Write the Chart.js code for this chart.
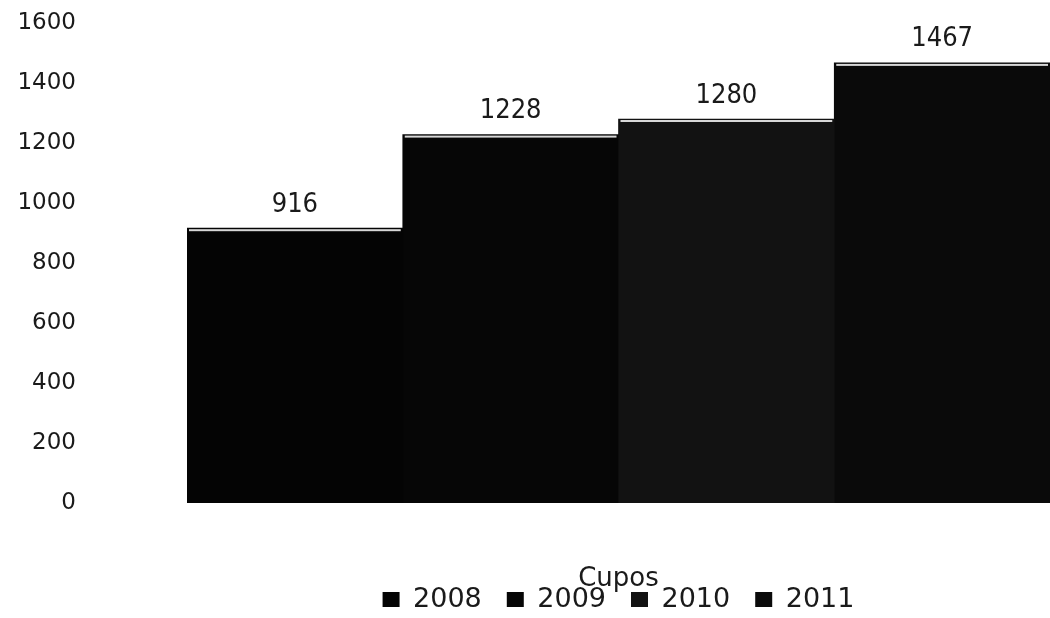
<!DOCTYPE html>
<html>
<head>
<meta charset="utf-8">
<script src="https://cdn.jsdelivr.net/npm/chart.js@4/dist/chart.umd.min.js"></script>
<style>
  html, body { margin: 0; padding: 0; background: #fff; }
  #wrap { width: 1050px; height: 618px; position: relative; }
</style>
</head>
<body>
<div id="wrap"><canvas id="chart"></canvas></div>
<script>
// Datos del gráfico
const categories = ['Cupos'];
const years = ['2008', '2009', '2010', '2011'];
const cupos = [916, 1228, 1280, 1467];
const yTicks = [0, 200, 400, 600, 800, 1000, 1200, 1400, 1600];

const barColors = ['#040404', '#060606', '#121212', '#0a0a0a'];
const textColor = '#1a1a1a';
const fontFamily = "'DejaVu Sans', sans-serif";

// Étiquettes de valeur au-dessus des barres
const valueLabels = {
  id: 'valueLabels',
  afterDatasetsDraw(chart) {
    const ctx = chart.ctx;
    ctx.save();
    ctx.font = "27px 'DejaVu Sans Condensed', " + fontFamily;
    ctx.textAlign = 'center';
    ctx.textBaseline = 'bottom';
    chart.data.datasets.forEach((ds, i) => {
      const bar = chart.getDatasetMeta(i).data[0];
      // fine ligne claire sur le dessus de la barre
      ctx.fillStyle = '#d8d8d8';
      ctx.fillRect(bar.x - bar.width / 2 + 2, bar.y + 1, bar.width - 4, 2);
      ctx.fillStyle = textColor;
      ctx.fillText(String(ds.data[0]), bar.x, bar.y - 10);
    });
    ctx.restore();
  }
};

new Chart(document.getElementById('chart'), {
  type: 'bar',
  data: {
    labels: categories,
    datasets: years.map((y, i) => ({
      label: y,
      data: [cupos[i]],
      backgroundColor: barColors[i],
      categoryPercentage: 1,
      barPercentage: 1
    }))
  },
  options: {
    responsive: true,
    maintainAspectRatio: false,
    animation: false,
    layout: { padding: { top: 23, right: 0, left: 0, bottom: -5 } },
    plugins: {
      legend: {
        position: 'bottom',
        fullSize: false,
        labels: {
          color: textColor,
          font: { family: fontFamily, size: 27 },
          boxWidth: 17,
          boxHeight: 15,
          padding: 25
        }
      },
      tooltip: { enabled: false }
    },
    scales: {
      x: {
        grid: { display: false },
        border: { display: false },
        ticks: { display: false },
        title: {
          display: true,
          text: categories[0],
          color: textColor,
          font: { family: fontFamily, size: 26 },
          padding: { top: 0, bottom: -34 }
        },
        afterFit(axis) {
          axis.height = 58;
        }
      },
      y: {
        min: 0,
        max: 1600,
        grid: { display: false },
        border: { display: false },
        afterBuildTicks(axis) {
          axis.ticks = yTicks.map(v => ({ value: v }));
        },
        afterFit(axis) {
          axis.width = 187;
          axis.paddingTop = 0;
          axis.paddingBottom = 0;
        },
        ticks: {
          color: textColor,
          font: { family: fontFamily, size: 23 },
          padding: 103,
          callback: v => String(v)
        }
      }
    }
  },
  plugins: [valueLabels]
});
</script>
</body>
</html>
